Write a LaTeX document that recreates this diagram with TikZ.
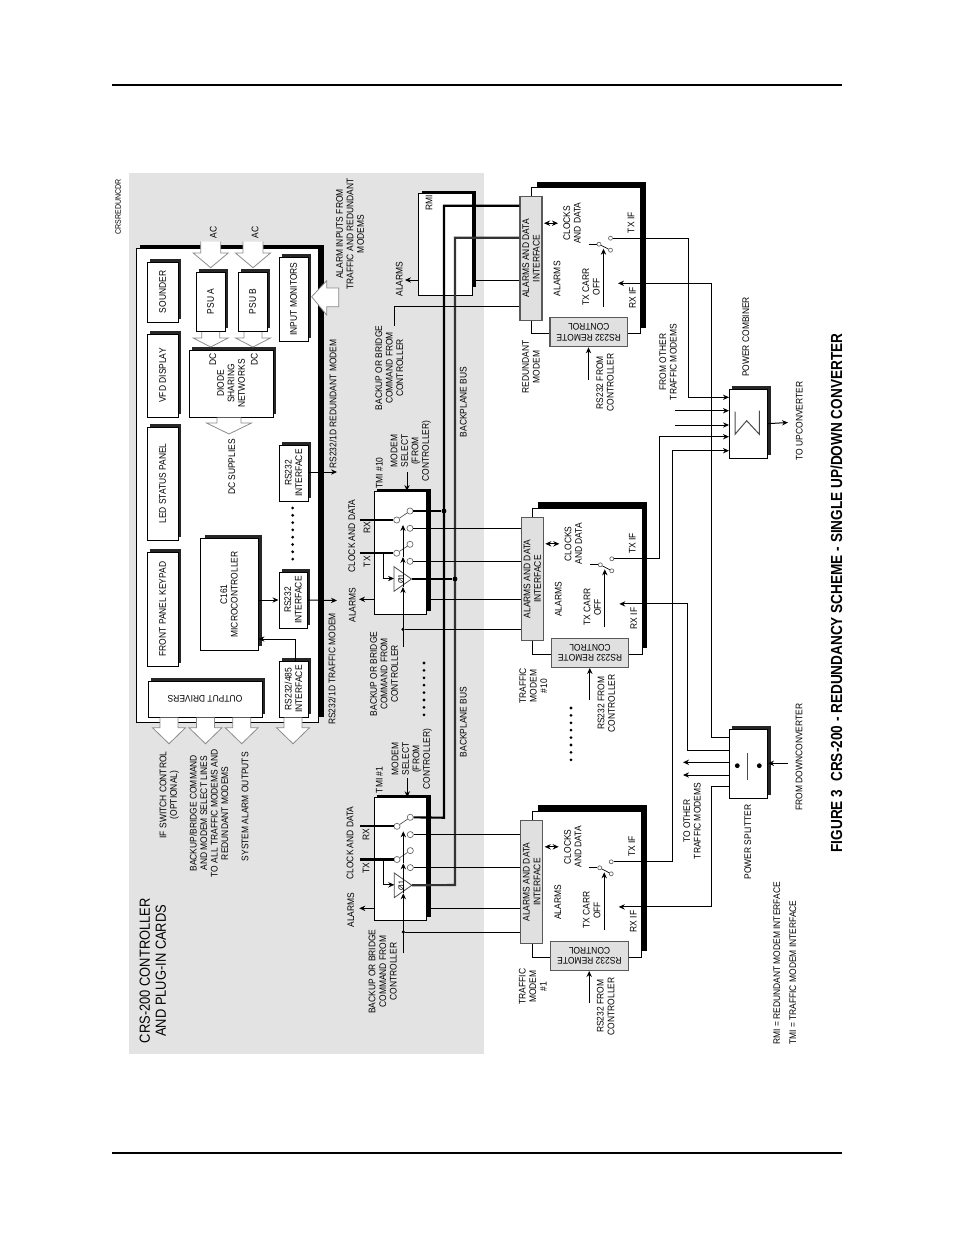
\documentclass[tikz,border=0pt]{standalone}
\usepackage{fontspec}
\setmainfont[FakeStretch=0.88]{Liberation Sans}
\newfontfamily\titlef[FakeStretch=0.85]{Liberation Sans}
\usetikzlibrary{arrows.meta,calc}
\definecolor{bgrey}{gray}{0.89}
\definecolor{igrey}{gray}{0.88}
\tikzset{
 x=0.75pt,y=-0.75pt,
 wire/.style={line width=.75pt},
 arr/.style={line width=.75pt,-{Stealth[length=4.5pt,width=4pt]}},
 darr/.style={line width=.75pt,{Stealth[length=4.5pt,width=4pt]}-{Stealth[length=4.5pt,width=4pt]}},
 bus/.style={line width=1.6pt},
 plainbox/.style={draw=black,fill=white,line width=.75pt,inner sep=0pt},
 ifbox/.style={draw=black!65,fill=igrey,line width=1pt,inner sep=0pt},
 lbl/.style={font=\fontsize{7.2}{7.9}\selectfont,rotate=90,align=center,inner sep=0pt},
 lblr/.style={font=\fontsize{7.2}{7.9}\selectfont,rotate=180,align=center,inner sep=0pt},
 big/.style={font=\fontsize{11}{12}\selectfont,rotate=90,align=center,inner sep=0pt},
 sw/.style={circle,draw=black!60,fill=white,line width=.5pt,minimum size=4.6pt,inner sep=0pt},
 swm/.style={circle,draw=black!60,fill=white,line width=.5pt,minimum size=3pt,inner sep=0pt},
 blk/.style={draw=black!45,line width=.6pt},
 dotn/.style={circle,fill=black,minimum size=3.6pt,inner sep=0pt},
}
% card with offset shadow: name x1 y1 x2 y2 text
\newcommand\card[6]{%
 \fill[black!85] ({#2+3},{#3-3}) rectangle ({#4+3},{#5-3});
 \pgfmathsetmacro\bxw{(#4-#2)*.75}\pgfmathsetmacro\bxh{(#5-#3)*.75}
 \node[plainbox,minimum width=\bxw pt,minimum height=\bxh pt] (#1) at ({(#2+#4)/2},{(#3+#5)/2}) {};
 \node[lbl] (#1-t) at (#1) {#6};
}
% downward block arrow: cx top halfshaft halfhead headY tipY
\newcommand\blkdown[6]{%
 \fill[white] ({#1-#3},#2) -- ({#1-#3},#5) -- ({#1-#4},#5) -- (#1,#6) -- ({#1+#4},#5) -- ({#1+#3},#5) -- ({#1+#3},#2) -- cycle;
 \draw[blk] ({#1-#3},#2) -- ({#1-#3},#5) -- ({#1-#4},#5) -- (#1,#6) -- ({#1+#4},#5) -- ({#1+#3},#5) -- ({#1+#3},#2);
}
\newcommand\dotrow[3]{\foreach \i in {0,...,7}{\fill (#1,{#2+\i*#3}) circle (1.15pt);}}
% TMI card: name x y alarmY dotY
\newcommand\tmi[5]{%
\begin{scope}[shift={(#2,#3)}]
 \fill (3,-2) rectangle (56.7,119.5);
 \node[plainbox,minimum width=39.5pt,minimum height=92.6pt] (#1) at (26.35,61.75) {};
 \draw[blk,fill=white,draw=black!70] (20,75.7) -- (20,100.3) -- (37.5,88) -- cycle;
 \coordinate (#1amp) at (37.5,88);
 \node[lbl,font=\fontsize{6}{6}\selectfont] (#1ampt) at (27,88) {Ø1};
 \node[sw] (#1rc) at (22.7,29) {};
 \node[sw] (#1ru) at (36,20) {};
 \node[sw] (#1rl) at (36,37.3) {};
 \node[sw] (#1tc) at (22.7,62.2) {};
 \node[sw] (#1tu) at (36,53.3) {};
 \node[sw] (#1tl) at (36,70.3) {};
 \draw[line width=.5pt,black!70] (#1rc) -- (#1ru);
 \draw[line width=.5pt,black!70] (#1tc) -- (#1tu);
 \coordinate (#1rin) at (-14.5,29);
 \coordinate (#1tin) at (-14.5,62.2);
 \draw[bus] (#1rin) -- (#1rc);
 \draw[bus] (#1tin) -- (#1tc);
 \coordinate (#1br) at (9.3,62.2);
 \coordinate (#1bi) at (9.3,87.5);
 \coordinate (#1ba) at (20,87.5);
 \draw[wire] (#1br) -- (#1bi);
 \draw[arr,line width=1pt] (#1bi) -- (#1ba);
 \coordinate (#1c0) at (29,156);
 \coordinate (#1c1) at (29,96);
 \coordinate (#1c2) at (29,66);
 \coordinate (#1c3) at (29,34);
 \draw[arr] (#1c0) -- (#1c1);
 \draw[arr] (#1c1) -- (#1c2);
 \draw[arr] (#1c2) -- (#1c3);
 \node[dotn,minimum size=2.6pt] (#1cd) at (29,#5) {};
 \coordinate (#1al) at (-15,#4);
 \coordinate (#1ar) at (52.7,#4);
 \draw[arr] (#1al -| #1.west) -- (#1al);
 \coordinate (#1ms) at (33,-19);
 \draw[arr] (#1ms) -- (33,0);
\end{scope}}
% modem: name x y label-free
\newcommand\modem[3]{%
\begin{scope}[shift={(#2,#3)}]
 \fill (17,-15) rectangle (126,-9);
 \fill (121,-15) rectangle (126,131);
 \node[plainbox,minimum width=82.1pt,minimum height=109.5pt] (#1box) at (66.25,64) {};
 \node[ifbox,minimum width=16.5pt,minimum height=92.6pt] (#1if) at (11,61.75) {};
 \node[lbl] (#1ift) at (#1if) {ALARMS AND DATA\\INTERFACE};
 \node[ifbox,minimum width=58.1pt,minimum height=21.7pt] (#1rc) at (68.75,135.5) {};
 \node[lblr] (#1rct) at (#1rc) {RS232 REMOTE\\CONTROL};
 \coordinate (#1d1) at (24,26.5);
 \coordinate (#1d2) at (38,26.5);
 \draw[darr] (#1d1) -- (#1d2);
 \node[lbl] (#1cd) at (52,26.5) {CLOCKS\\AND DATA};
 \node[lbl] (#1al) at (37,82) {ALARMS};
 \node[lbl] (#1tc) at (71,90) {TX CARR\\OFF};
 \node[lbl] (#1txl) at (111,26) {TX IF};
 \node[lbl] (#1rxl) at (112.5,101) {RX IF};
 \node[swm] (#1c) at (79,47.5) {};
 \node[swm] (#1u) at (90.5,41.5) {};
 \node[swm] (#1l) at (90.5,53.5) {};
 \draw[line width=.5pt] (#1c) -- (#1l);
 \coordinate (#1s) at (68.5,47.5);
 \draw[wire] (#1s) -- (#1c);
 \coordinate (#1o) at (83.5,110);
 \coordinate (#1o2) at (83.5,52);
 \draw[arr] (#1o) -- (#1o2);
 \coordinate (#1rsb) at (68.5,183);
 \draw[arr] (#1rsb) -- (#1rsb |- #1rc.south);
 \node[lbl] (#1fr) at (85,186) {RS232 FROM\\CONTROLLER};
 \coordinate (#1rx) at (98,86.6);
\end{scope}}
\begin{document}
\begin{tikzpicture}
\useasboundingbox (0,0) rectangle (954,1235);
% page rules
\draw[line width=1.7pt] (112,85) -- (842,85);
\draw[line width=1.7pt] (112,1153) -- (842,1153);
% grey panel
\fill[bgrey] (129,173) rectangle (484,1054);
% controller
\fill (140,245) rectangle (324,717);
\node[plainbox,minimum width=136.7pt,minimum height=354.8pt] (ctl) at (227.85,485.5) {};
\fill (319,249) rectangle (324,717);
\card{snd}{147}{262}{178}{322}{SOUNDER}
\card{vfd}{147}{334}{178}{417}{VFD DISPLAY}
\card{led}{147}{427}{178}{540}{LED STATUS PANEL}
\card{fpk}{147}{552}{178}{666}{FRONT PANEL KEYPAD}
\fill[black!85] (151,678) rectangle (265,714);
\node[plainbox,minimum width=85.5pt,minimum height=27pt] (odr) at (205,699) {};
\node[lblr] (odrt) at (odr) {OUTPUT DRIVERS};
\card{psa}{196}{272}{225}{331}{PSU A}
\card{psb}{238}{272}{267}{331}{PSU B}
\card{inm}{279}{257}{308}{341}{INPUT MONITORS}
\card{dio}{189}{350}{273}{417}{DIODE\\SHARING\\NETWORKS}
\card{rs1}{279}{445}{308}{501}{RS232\\INTERFACE}
\fill[black!85] (205,535) rectangle (262,646);
\node[plainbox,minimum width=43.5pt,minimum height=83.3pt] (mcu) at (229,594.5) {};
\node[lbl] (mcut) at (mcu) {C161\\MICROCONTROLLER};
\card{rs2}{279}{572}{307}{628}{RS232\\INTERFACE}
\card{rs3}{279}{661}{308}{717}{RS232/485\\INTERFACE}
% block arrows
\blkdown{210.7}{241.7}{10}{17.5}{253}{267.7}
\blkdown{253}{241.7}{10}{17.5}{253}{267.7}
\blkdown{210.7}{332}{9}{17.5}{338}{347}
\blkdown{253}{332}{9}{17.5}{338}{347}
\blkdown{229}{417.5}{12}{22.5}{423}{434}
\blkdown{169}{717.5}{9}{16.5}{727.7}{743.7}
\blkdown{205.5}{717.5}{9}{16.5}{727.7}{743.7}
\blkdown{241.7}{717.5}{9}{16.5}{727.7}{743.7}
\blkdown{293}{717.5}{9}{16.5}{727.7}{743.7}
\fill[white] (338.7,288) -- (326.7,288) -- (326.7,280.7) -- (311.7,296.7) -- (326.7,315) -- (326.7,306.7) -- (338.7,306.7) -- cycle;
\draw[blk] (338.7,288) -- (326.7,288) -- (326.7,280.7) -- (311.7,296.7) -- (326.7,315) -- (326.7,306.7) -- (338.7,306.7) -- cycle;
% controller connectors
\coordinate (out1) at (337,472);
\coordinate (out2) at (337,600.5);
\coordinate (in1) at (258.5,639);
\draw[arr] (rs1.east |- out1) -- (out1);
\draw[arr] (mcu.east |- rs2.west) -- (rs2.west);
\draw[arr] (rs2.east) -- (out2);
\draw[arr] ([xshift=1.6pt]rs3.north) |- (in1);
\dotrow{292.7}{508}{7.3}
\dotrow{424}{663}{7.4}
\dotrow{571}{708}{7.4}
% RMI
\fill (422,191) rectangle (475.7,287);
\node[plainbox,minimum width=40.3pt,minimum height=76.5pt] (rmi) at (445.85,244) {};
\node[lbl] (rmit) at (429,203) {RMI};
% TMI cards
\tmi{Ta}{374}{491}{108.3}{138.3}
\tmi{Tb}{374.3}{797.3}{111}{134.7}
% modems
\modem{R}{520}{196.7}{}
\modem{M}{521.3}{517.3}{}
\modem{N}{520.7}{820.3}{}
% combiner, splitter
\card{cmb}{729}{389}{767.5}{458.3}{}
\draw[wire,black!70] (735,411.7) -- (735,434.3) -- (746.7,420.7) -- (759.3,434.3) -- (759.3,410.7);
\card{spl}{729}{729.3}{767.5}{798.3}{}
\node[dotn] (sp1) at (737.3,765.7) {};
\node[dotn] (sp2) at (759.3,765.7) {};
\draw[wire,black!70] (747.7,752.5) -- (747.7,779.5);
% backplane buses
\coordinate (b1t) at (444,205.7);
\coordinate (b2t) at (455,237.7);
\coordinate (b1b) at (444,817.7);
\coordinate (b2b) at (455,885);
\draw[bus] (b1t -| Rif.west) -- (b1t) -- (b1b) -- (Tbru);
\draw[bus,black!80] (b2t -| Rif.west) -- (b2t) -- (b2b) -- (Tbamp);
\node[dotn] (da1) at (444,511) {};
\node[dotn] (da2) at (455,579) {};
\draw[bus] (Taru) -- (da1);
\draw[bus] (Taamp) -- (da2);
% lines to modem interfaces
\coordinate (ra) at (472.7,280);
\draw[wire] (ra) -- (ra -| Rif.west);
\coordinate (rma) at (419,280);
\coordinate (ral) at (405,280);
\draw[arr] (rma) -- (ral);
\coordinate (rb) at (394,306.7);
\coordinate (rb2) at (394,326);
\draw[wire] (rb -| Rif.west) -- (rb) -- (rb2);
\draw[wire] (Tarl) -- (Tarl -| Mif.west);
\draw[wire] (Tatl) -- (Tatl -| Mif.west);
\draw[wire] (Taar) -- (Taar -| Mif.west);
\draw[wire] (Tacd) -- (Tacd -| Mif.west);
\draw[wire] (Tbrl) -- (Tbrl -| Nif.west);
\draw[wire] (Tbtl) -- (Tbtl -| Nif.west);
\draw[wire] (Tbar) -- (Tbar -| Nif.west);
\draw[wire] (Tbcd) -- (Tbcd -| Nif.west);
% RF wiring
\coordinate (c1) at (729,397.3);
\coordinate (c2) at (729,410.7);
\coordinate (c3) at (729,425);
\coordinate (c4) at (729,436.7);
\coordinate (c5) at (729,450.7);
\coordinate (s2) at (675,410.7);
\coordinate (s3) at (675,425);
\coordinate (v1) at (688.3,397.3);
\coordinate (v4) at (659.3,436.7);
\coordinate (v5) at (672.7,450.7);
\draw[arr] (Ru) -| (v1) -- (c1);
\draw[arr] (s2) -- (c2);
\draw[arr] (s3) -- (c3);
\draw[arr] (Mu) -| (v4) -- (c4);
\draw[arr] (Nu) -| (v5) -- (c5);
\coordinate (cout) at (788,422.5);
\draw[arr] (cmb.east) -- (cout);
\coordinate (p1) at (729,737.3);
\coordinate (p2) at (729,750);
\coordinate (p3) at (729,786.7);
\coordinate (u1) at (711,737.3);
\coordinate (u2) at (687.3,750);
\coordinate (u3) at (711,786.7);
\draw[arr] (p1) -- (u1) -- (u1 |- Rrx) -- (Rrx);
\draw[arr] (p2) -- (u2) -- (u2 |- Mrx) -- (Mrx);
\draw[arr] (p3) -- (u3) -- (u3 |- Nrx) -- (Nrx);
\coordinate (q1) at (729,762.3);
\coordinate (q2) at (729,775);
\coordinate (q1e) at (683,762.3);
\coordinate (q2e) at (683,775);
\draw[arr] (q1) -- (q1e);
\draw[arr] (q2) -- (q2e);
\coordinate (sin) at (788,763.3);
\draw[arr] (sin) -- (sin -| spl.east);
% labels: controller
\node[big] (ttl) at (152.7,970.7) {CRS-200 CONTROLLER\\AND PLUG-IN CARDS};
\node[lbl,font=\fontsize{6}{6.5}\selectfont] (fn) at (118,207) {CRSREDUNCDR};
\node[lbl] (ac1) at (213.3,232.3) {AC};
\node[lbl] (ac2) at (255,232.3) {AC};
\node[lbl] (dc1) at (212.7,359) {DC};
\node[lbl] (dc2) at (254.3,359) {DC};
\node[lbl] (dcs) at (231.7,467) {DC SUPPLIES};
\node[lbl] (alm) at (350,234) {ALARM INPUTS FROM\\TRAFFIC AND REDUNDANT\\MODEMS};
\node[lbl] (r1d) at (333,404) {RS232/1D REDUNDANT MODEM};
\node[lbl] (r2d) at (332,669) {RS232/1D TRAFFIC MODEM};
\node[lbl] (ifs) at (169.3,795) {IF SWITCH CONTROL\\(OPTIONAL)};
\node[lbl] (bbc) at (209,813.3) {BACKUP/BRIDGE COMMAND\\AND MODEM SELECT LINES\\TO ALL TRAFFIC MODEMS AND\\REDUNDANT MODEMS};
\node[lbl] (sao) at (245,806.7) {SYSTEM ALARM OUTPUTS};
% labels: TMI / RMI region
\node[lbl] (alr) at (399.3,279) {ALARMS};
\node[lbl] (bbr) at (389.3,368) {BACKUP OR BRIDGE\\COMMAND FROM\\CONTROLLER};
\node[lbl] (bp1) at (463.3,402) {BACKPLANE BUS};
\node[lbl] (bp2) at (463.3,722) {BACKPLANE BUS};
\node[lbl] (tmA) at (379.3,473) {TMI \#10};
\node[lbl] (tmB) at (379.3,780) {TMI \#1};
\node[lbl] (msa) at (410.7,451) {MODEM\\SELECT\\(FROM\\CONTROLLER)};
\node[lbl] (msb) at (411.7,759) {MODEM\\SELECT\\(FROM\\CONTROLLER)};
\node[lbl] (cda) at (351.7,536) {CLOCK AND DATA};
\node[lbl] (cdb) at (350,843) {CLOCK AND DATA};
\node[lbl] (rxa) at (367,528) {RX};
\node[lbl] (txa) at (367,561.7) {TX};
\node[lbl] (rxb) at (366,835) {RX};
\node[lbl] (txb) at (366,868.3) {TX};
\node[lbl] (ala) at (352.3,605) {ALARMS};
\node[lbl] (alb) at (350.7,910) {ALARMS};
\node[lbl] (bba) at (384,674) {BACKUP OR BRIDGE\\COMMAND FROM\\CONTROLLER};
\node[lbl] (bbb) at (382.7,971.7) {BACKUP OR BRIDGE\\COMMAND FROM\\CONTROLLER};
% labels: modems
\node[lbl] (lr) at (531,367) {REDUNDANT\\MODEM};
\node[lbl] (lm) at (533.3,686) {TRAFFIC\\MODEM\\\#10};
\node[lbl] (ln) at (532.7,986.7) {TRAFFIC\\MODEM\\\#1};
\node[lbl] (fo) at (668,362) {FROM OTHER\\TRAFFIC MODEMS};
\node[lbl] (pc) at (745.7,337) {POWER COMBINER};
\node[lbl] (tu) at (799.3,421) {TO UPCONVERTER};
\node[lbl] (fd) at (799,757) {FROM DOWNCONVERTER};
\node[lbl] (to) at (692,821) {TO OTHER\\TRAFFIC MODEMS};
\node[lbl] (ps) at (747.7,842) {POWER SPLITTER};
\node[lbl,anchor=west] (k1) at (776.7,1045) {RMI = REDUNDANT MODEM INTERFACE};
\node[lbl,anchor=west] (k2) at (792.7,1045) {TMI = TRAFFIC MODEM INTERFACE};
\node[rotate=90,inner sep=0pt,font=\titlef\bfseries\fontsize{12}{13}\selectfont] (fig) at (836.5,593) {FIGURE 3\hspace{6pt}CRS-200 - REDUNDANCY SCHEME - SINGLE UP/DOWN CONVERTER};
\end{tikzpicture}
\end{document}
